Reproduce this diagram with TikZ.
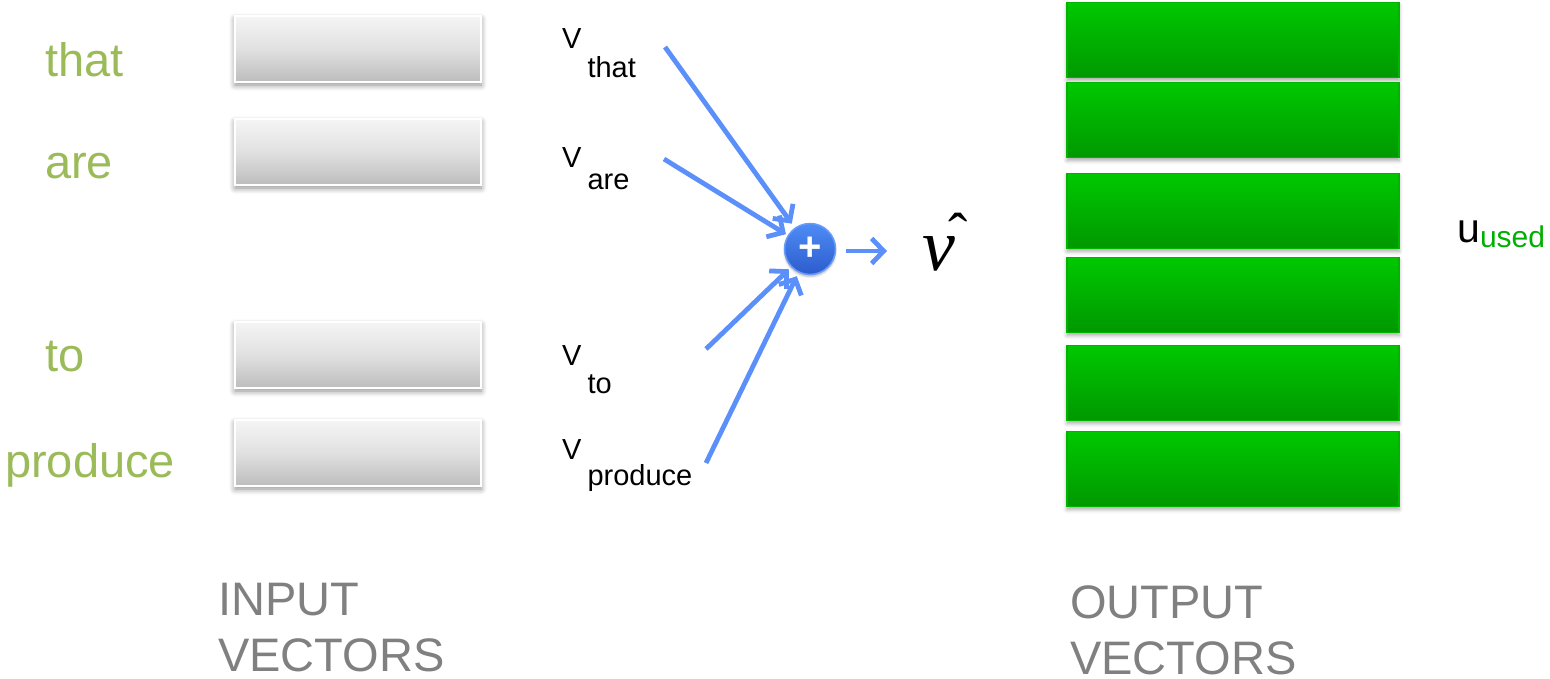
\documentclass[tikz,border=0pt]{standalone}
\usepackage{fontspec}
\setmainfont{Liberation Sans}
\newfontfamily\timesit{Liberation Serif}
\usetikzlibrary{arrows.meta,shadows.blur}
\definecolor{wordgreen}{HTML}{9BBB59}
\definecolor{arrowblue}{HTML}{5B8FF9}
\definecolor{capgray}{HTML}{808080}
\definecolor{usedgreen}{HTML}{00B000}
\tikzset{
  inbox/.style={rectangle, minimum width=246pt, minimum height=66pt, inner sep=0pt,
    top color=white!96!black, bottom color=white!74!black, middle color=white!88!black,
    draw=white, line width=2.5pt,
    blur shadow={shadow xshift=0pt, shadow yshift=-3pt, shadow blur radius=6pt, shadow blur steps=8, shadow opacity=45}},
  outbox/.style={rectangle, minimum width=332pt, minimum height=75pt, inner sep=0pt,
    top color={rgb,255:red,0;green,200;blue,0}, bottom color={rgb,255:red,0;green,152;blue,0},
    draw={rgb,255:red,0;green,180;blue,0}, line width=1.5pt,
    blur shadow={shadow xshift=0pt, shadow yshift=-3pt, shadow blur radius=4pt, shadow blur steps=5, shadow opacity=35}},
  word/.style={anchor=base west, inner sep=0pt, text=wordgreen, font=\fontsize{47}{50}\selectfont},
  vlab/.style={anchor=base west, inner sep=0pt, font=\fontsize{29}{30}\selectfont},
  captext/.style={anchor=base west, inner sep=0pt, text=capgray, align=left,
    font=\fontsize{47}{56}\selectfont},
  flow/.style={draw=arrowblue, line width=4.8pt, -{Straight Barb[length=12pt,width=25pt]}},
}
\begin{document}
\begin{tikzpicture}[x=1pt,y=-1pt]
\useasboundingbox (0,0) rectangle (1550,678);

% input vectors
\node[inbox] (in1) at (358,49) {};
\node[inbox] (in2) at (358,152) {};
\node[inbox] (in3) at (358,355) {};
\node[inbox] (in4) at (358,453) {};

% words
\node[word] (wthat) at (45,76) {that};
\node[word] (ware) at (45,178) {are};
\node[word] (wto) at (45,371) {to};
\node[word] (wproduce) at (5,477) {produce};

% v labels
\node[vlab] (vthat) at (562,48) {V\hspace{6pt}\raisebox{-29pt}{that}};
\node[vlab] (vare) at (562,167) {V\hspace{6pt}\raisebox{-22pt}{are}};
\node[vlab] (vto) at (562,365) {V\hspace{6pt}\raisebox{-28pt}{to}};
\node[vlab] (vproduce) at (562,459) {V\hspace{6pt}\raisebox{-26pt}{produce}};

% sum node
\node[circle, minimum size=51pt, inner sep=0pt,
  top color={rgb,255:red,78;green,140;blue,245}, bottom color={rgb,255:red,44;green,92;blue,205},
  draw={rgb,255:red,105;green,155;blue,250}, line width=1.5pt,
  blur shadow={shadow xshift=0pt, shadow yshift=-2pt, shadow opacity=30},
  text=white, font=\fontsize{40}{40}\selectfont\bfseries] (sum) at (810,249) {+};

% arrows
\coordinate (sthat) at (665,47);
\coordinate (sare) at (664,159);
\coordinate (sto) at (706,349);
\coordinate (sproduce) at (706,463);
\coordinate (outend) at (887,251);
\draw[flow, shorten >=5pt] (sthat) -- (sum);
\draw[flow, shorten >=2pt] (sare) -- (sum);
\draw[flow, shorten >=3pt] (sto) -- (sum);
\draw[flow, shorten >=4pt] (sproduce) -- (sum);
\draw[flow, shorten <=10pt] (sum.east |- outend) -- (outend);

% v hat
\node[anchor=base west, inner sep=0pt, font=\fontsize{74}{74}\selectfont\timesit] (vhat) at (922,270)
  {\itshape v\hspace{-7pt}\raisebox{17pt}{\upshape\fontsize{58}{58}\selectfont ˆ}};

% output vectors
\node[outbox] (out1) at (1233,40) {};
\node[outbox] (out2) at (1233,120) {};
\node[outbox] (out3) at (1233,211) {};
\node[outbox] (out4) at (1233,295) {};
\node[outbox] (out5) at (1233,383) {};
\node[outbox] (out6) at (1233,469) {};

% u used
\node[anchor=base west, inner sep=0pt, font=\fontsize{41}{41}\selectfont] (uused) at (1457,242)
  {u\raisebox{-5pt}{\fontsize{30}{30}\selectfont\color{usedgreen}used}};

% captions
\node[captext] (incap) at (218,671) {INPUT\\VECTORS};
\node[captext] (outcap) at (1070,674) {OUTPUT\\VECTORS};
\end{tikzpicture}
\end{document}
